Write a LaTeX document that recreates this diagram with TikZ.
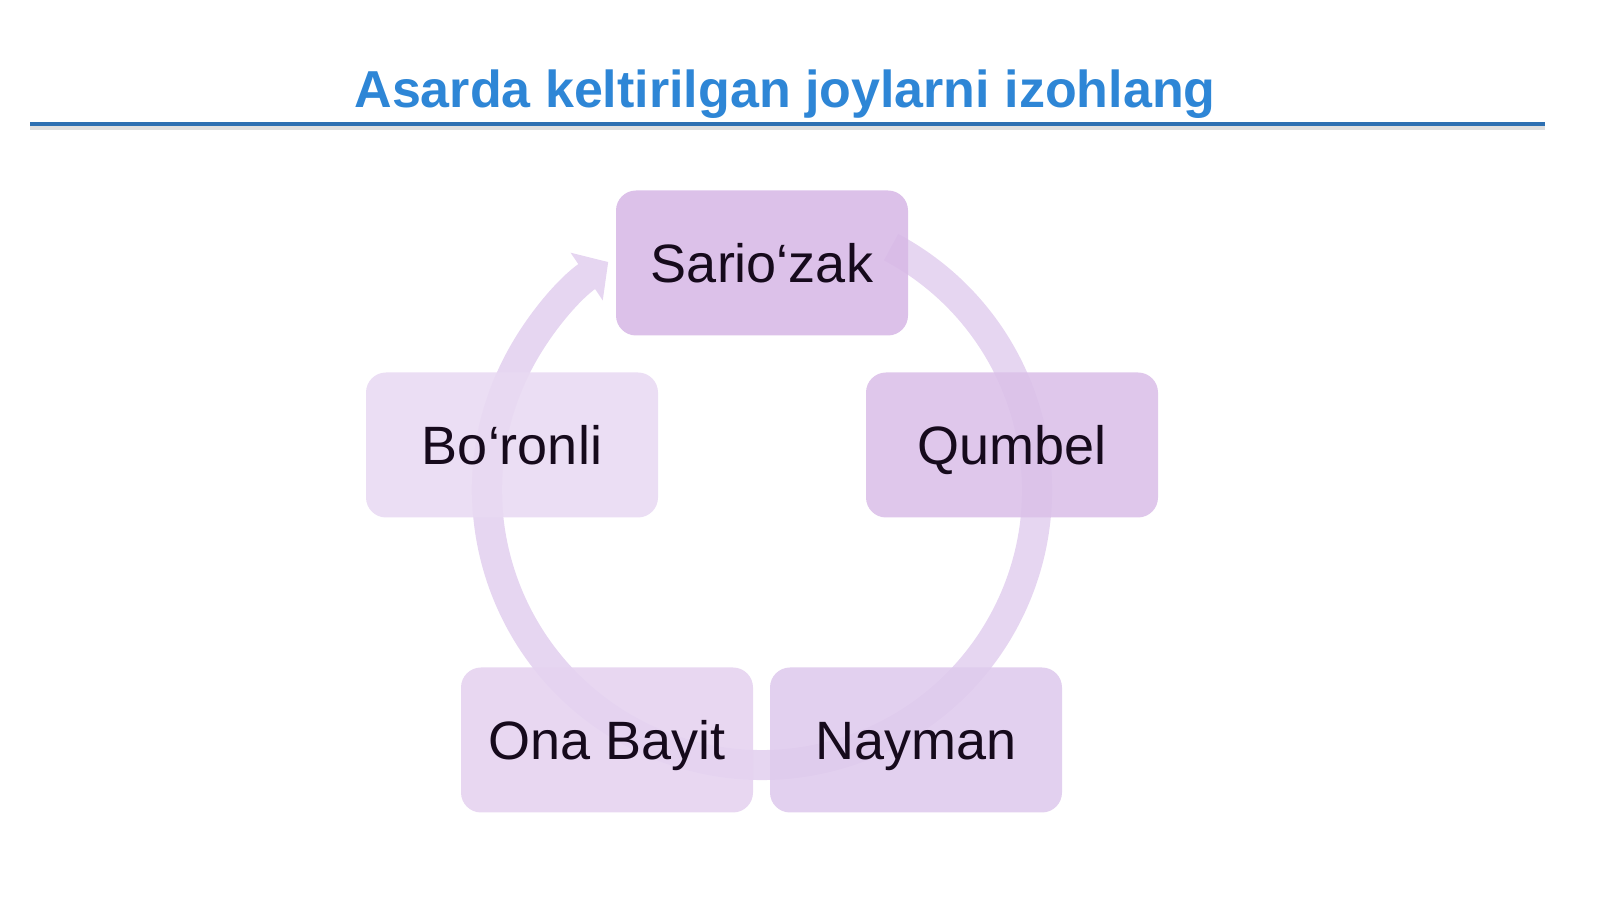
\documentclass[tikz,border=0pt]{standalone}
\usepackage{fontspec}
\setmainfont{Liberation Sans}
\usetikzlibrary{arrows.meta}
\definecolor{titleblue}{RGB}{46,134,214}
\definecolor{rulecol}{RGB}{46,112,178}
\definecolor{arccol}{RGB}{230,214,241}
\definecolor{txtcol}{RGB}{22,10,28}
\definecolor{boxa}{RGB}{216,186,231}
\definecolor{boxb}{RGB}{219,193,233}
\definecolor{boxc}{RGB}{223,203,237}
\definecolor{boxd}{RGB}{229,211,240}
\definecolor{boxe}{RGB}{233,218,243}

\begin{document}
\begin{tikzpicture}[x=0.5pt, y=0.5pt,
    place/.style={rectangle, rounded corners=10pt, minimum width=146pt, minimum height=72.5pt,
        inner sep=0pt, fill opacity=0.9, text opacity=1, text=txtcol,
        font=\fontsize{27}{30}\selectfont, text height=19.7pt, text depth=0pt},
    cycle/.style={arccol, line width=15pt, -{Triangle[width=28pt, length=13pt]}}]
        \useasboundingbox (0, 0) rectangle (1600, 899);

        %title
        \node[anchor=base, text=titleblue, font=\bfseries\fontsize{26}{30}\selectfont] (title) at (785, 791) {Asarda keltirilgan joylarni izohlang};
        \coordinate (rl) at (30, 775);
        \coordinate (rr) at (1545, 775);
        \draw[black!25, line width=2pt, opacity=0.5] ([yshift=-2pt]rl) -- ([yshift=-2pt]rr);
        \draw[rulecol, line width=2pt] (rl) -- (rr);

        %cycle
        \coordinate (hub) at (762, 409);
        \draw[cycle] (hub) ++(62:275) arc[start angle=62, end angle=-236, radius=275];

        %nodes
        \node[place, fill=boxa] (sariozak) at (762, 636) {Sario‘zak};
        \node[place, fill=boxb] (qumbel) at (1012, 454) {Qumbel};
        \node[place, fill=boxc] (nayman) at (916, 159) {Nayman};
        \node[place, fill=boxd] (onabayit) at (607, 159) {Ona Bayit};
        \node[place, fill=boxe] (boronli) at (512, 454) {Bo‘ronli};
    \end{tikzpicture}
\end{document}
